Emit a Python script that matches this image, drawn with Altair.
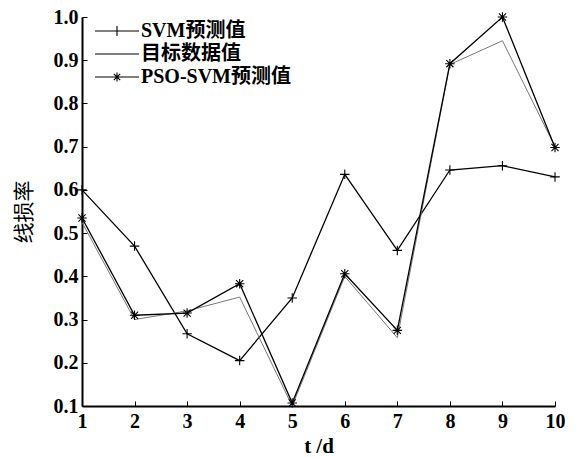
import altair as alt
import pandas as pd

days = list(range(1, 11))
svm = [0.60, 0.47, 0.267, 0.205, 0.35, 0.636, 0.46, 0.646, 0.656, 0.63]
target = [0.525, 0.30, 0.32, 0.352, 0.10, 0.40, 0.258, 0.89, 0.945, 0.70]
pso = [0.535, 0.31, 0.315, 0.383, 0.107, 0.406, 0.275, 0.892, 1.0, 0.698]
series_names = ["SVM预测值", "目标数据值", "PSO-SVM预测值"]
y_ticks = [0.1, 0.2, 0.3, 0.4, 0.5, 0.6, 0.7, 0.8, 0.9, 1.0]
x_ticks = days

rows = []
for name, vals in zip(series_names, [svm, target, pso]):
    for d, v in zip(days, vals):
        rows.append({"day": d, "value": v, "series": name})
df = pd.DataFrame(rows)

SERIF = "Liberation Serif, Noto Sans CJK SC"

plus_path = "M-1,0L1,0M0,-1L0,1"
star_path = "M-1,0L1,0M0,-1L0,1M-0.75,-0.75L0.75,0.75M-0.75,0.75L0.75,-0.75"

leg_plus = "M-0.5,0L21.5,0M10.5,-2.5L10.5,2.5"
leg_line = "M-0.5,0L21.5,0"
leg_star = "M-0.5,0L21.5,0M10.5,-2.2L10.5,2.2M8.9,-1.6L12.1,1.6M8.9,1.6L12.1,-1.6"

x_enc = alt.X(
    "day:Q",
    scale=alt.Scale(domain=[1, 10], nice=False, zero=False),
    axis=alt.Axis(
        values=x_ticks, format="d", title="t /d", grid=False, labelFlush=False,
        tickSize={"expr": "-5"}, labelPadding=10,
        titleFontWeight="bold", titlePadding=4,
    ),
)
y_enc = alt.Y(
    "value:Q",
    scale=alt.Scale(domain=[0.1, 1.0], nice=False, zero=False),
    axis=alt.Axis(
        values=y_ticks, format=".1f", title="线损率", grid=False, labelFlush=False,
        tickSize={"expr": "-5"}, labelPadding=9,
        titleFontWeight="normal", titlePadding=19,
    ),
)

svm_line = alt.Chart(df).transform_filter(
    f"datum.series === '{series_names[0]}'"
).mark_line(color="#000000", strokeWidth=1.3).encode(x=x_enc, y=y_enc)

target_line = alt.Chart(df).transform_filter(
    f"datum.series === '{series_names[1]}'"
).mark_line(color="#777777", strokeWidth=1.0).encode(x="day:Q", y="value:Q")

pso_line = alt.Chart(df).transform_filter(
    f"datum.series === '{series_names[2]}'"
).mark_line(color="#000000", strokeWidth=1.3).encode(x="day:Q", y="value:Q")

svm_pts = alt.Chart(df).transform_filter(
    f"datum.series === '{series_names[0]}'"
).mark_point(filled=False, color="#000000", size=90, strokeWidth=1.1, opacity=1, shape=plus_path).encode(
    x="day:Q", y="value:Q",
)

pso_pts = alt.Chart(df).transform_filter(
    f"datum.series === '{series_names[2]}'"
).mark_point(filled=False, color="#000000", size=90, strokeWidth=1.1, opacity=1, shape=star_path).encode(
    x="day:Q", y="value:Q",
)

legend_layer = alt.Chart(df).mark_point(
    filled=False, color="#000000", size=16, strokeWidth=1.1, opacity=0
).encode(
    x="day:Q", y="value:Q",
    shape=alt.Shape(
        "series:N",
        scale=alt.Scale(domain=series_names, range=[leg_plus, leg_line, leg_star]),
        legend=alt.Legend(title=None, orient="top-left"),
    ),
)

chart = alt.layer(svm_line, target_line, pso_line, svm_pts, pso_pts, legend_layer).properties(
    width=473, height=389,
    padding={"left": 74, "top": 9, "right": 10, "bottom": 50},
    autosize=alt.AutoSizeParams(type="none"),
).configure_view(stroke=None).configure_axis(
    domainColor="#000000", domainWidth=2, tickColor="#000000", tickWidth=1,
    labelFont=SERIF, labelFontSize=20, labelFontWeight="bold", labelColor="#000000",
    titleFont=SERIF, titleFontSize=21, titleColor="#000000",
).configure_legend(
    labelFont=SERIF, labelFontSize=20, labelFontWeight="bold", labelColor="#000000",
    symbolSize=16, symbolStrokeWidth=1.1, symbolOpacity=1, labelOffset=35,
    rowPadding=3, labelLimit=300, offset=4,
)

chart.save("out.html", embed_options={"renderer": "svg", "actions": False})
